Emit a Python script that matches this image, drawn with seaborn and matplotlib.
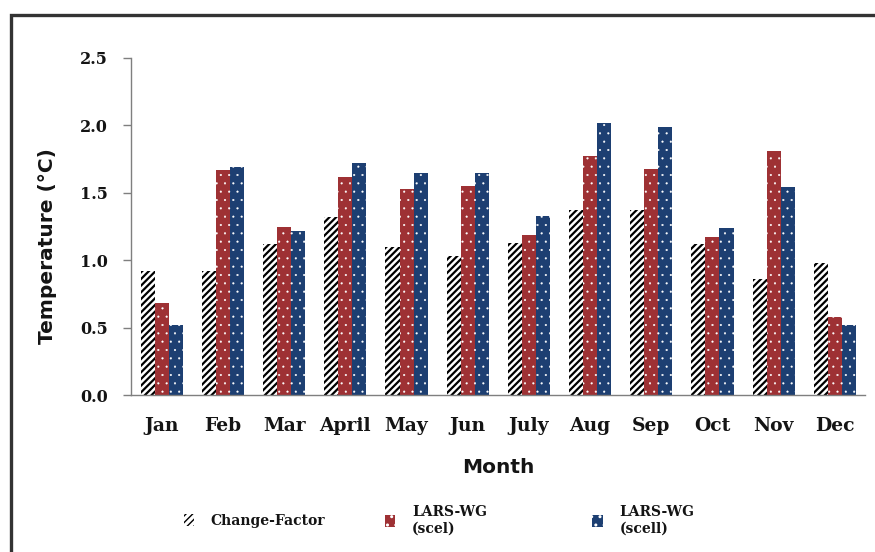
import pandas as pd
import numpy as np
import matplotlib.pyplot as plt
import matplotlib.patches as mpatches
import seaborn as sns

# --- data ---
months = ['Jan', 'Feb', 'Mar', 'April', 'May', 'Jun', 'July', 'Aug', 'Sep', 'Oct', 'Nov', 'Dec']
change_factor = [0.92, 0.92, 1.12, 1.32, 1.10, 1.03, 1.13, 1.37, 1.37, 1.12, 0.86, 0.98]
lars_scel = [0.68, 1.67, 1.25, 1.62, 1.53, 1.55, 1.19, 1.77, 1.68, 1.17, 1.81, 0.58]
lars_scell = [0.52, 1.69, 1.22, 1.72, 1.65, 1.65, 1.33, 2.02, 1.99, 1.24, 1.54, 0.52]
series_names = ['Change-Factor', 'LARS-WG\n(scel)', 'LARS-WG\n(scell)']

df = pd.DataFrame({
    'Month': months * 3,
    'Value': change_factor + lars_scel + lars_scell,
    'Series': [series_names[0]] * 12 + [series_names[1]] * 12 + [series_names[2]] * 12,
})

sns.set_style('white')

RED = '#9e3134'
BLUE = '#1d3f72'
TXT = '#141414'
palette = {series_names[0]: 'white', series_names[1]: RED, series_names[2]: BLUE}


def style_patch(p, kind):
    # kind 0 = diagonal stripes, 1/2 = white dots on colour
    p.set_linewidth(0)
    if kind == 0:
        p.set_facecolor('white')
        p.set_edgecolor('black')
        p.set_hatch('/////')
        lw = 1.6
    else:
        p.set_facecolor(RED if kind == 1 else BLUE)
        p.set_edgecolor('white')
        p.set_hatch('..')
        lw = 0.3
    if hasattr(p, 'set_hatch_linewidth'):
        p.set_hatch_linewidth(lw)
    else:
        p._hatch_linewidth = lw


fig = plt.figure(figsize=(8.75, 5.52), dpi=100)
ax = fig.add_axes([0.150, 0.284, 0.839, 0.611])

sns.barplot(data=df, x='Month', y='Value', hue='Series', order=months,
            hue_order=series_names, palette=palette, width=0.69,
            saturation=1, ax=ax, legend=False)

n = len(months)
for i, bar in enumerate(ax.patches[:3 * n]):
    style_patch(bar, i // n)

ax.set_ylim(0, 2.5)
ax.set_xlim(-0.5, n - 0.5)
ax.set_yticks([0.0, 0.5, 1.0, 1.5, 2.0, 2.5])
ax.set_yticklabels(['0.0', '0.5', '1.0', '1.5', '2.0', '2.5'])
for sp in ['top', 'right']:
    ax.spines[sp].set_visible(False)
for sp in ['left', 'bottom']:
    ax.spines[sp].set_color('#7f7f7f')
    ax.spines[sp].set_linewidth(1.0)
ax.tick_params(axis='y', which='major', left=True, length=6, color='#7f7f7f', width=1, pad=11,
               labelcolor=TXT)
ax.tick_params(axis='x', bottom=False, pad=12, labelcolor=TXT)

for t in ax.get_yticklabels():
    t.set_fontfamily('DejaVu Serif'); t.set_fontweight('bold'); t.set_fontsize(11.5)
for t in ax.get_xticklabels():
    t.set_fontfamily('DejaVu Serif'); t.set_fontweight('bold'); t.set_fontsize(13.5)

ax.set_ylabel('Temperature (°C)', fontsize=14.5, fontweight='bold', family='DejaVu Sans', color=TXT)
ax.yaxis.set_label_coords(-0.101, 0.442)
ax.set_xlabel('Month', fontsize=14.5, fontweight='bold', family='DejaVu Sans', labelpad=17, color=TXT)

# legend: one entry per box so the gaps follow the reference
leg_x = [0.210, 0.440, 0.677]
for k in range(3):
    h = mpatches.Patch()
    style_patch(h, k)
    lg = fig.legend([h], [series_names[k]], loc='center left', bbox_to_anchor=(leg_x[k], 0.057),
                    frameon=False, prop={'family': 'DejaVu Serif', 'weight': 'bold', 'size': 10},
                    handlelength=0.75, handleheight=0.9, handletextpad=1.2, borderpad=0,
                    borderaxespad=0, labelcolor=TXT)

# outer frame (top and left edges visible)
frame = mpatches.Rectangle((0.012, -0.2), 1.2, 1.173, transform=fig.transFigure,
                           fill=False, edgecolor='#333333', linewidth=2.4, clip_on=False)
fig.patches.append(frame)

fig.savefig('out.png', dpi=100)
